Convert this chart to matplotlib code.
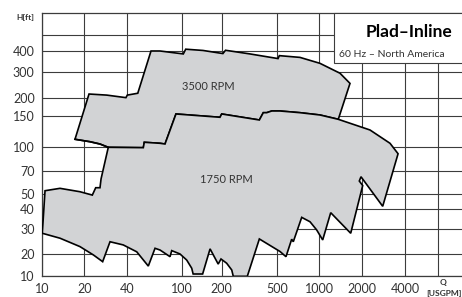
import numpy as np
import matplotlib
matplotlib.use("Agg")
import matplotlib.pyplot as plt
from matplotlib.patches import Rectangle

plt.rcParams['font.family'] = ['Lato', 'DejaVu Sans']

# ---------------- data (Q in US gpm, H in ft) ----------------
# 3500 RPM envelope: left-bottom corner, up, along the top, down the right side
rpm3500_top_q = [17.15, 21.6, 28.85, 39.5, 40.4, 48.0, 59.7, 69.3, 101.8, 106.2, 143.9,
                 204, 213, 319, 506, 517, 727, 1011, 1403, 1652, 1364]
rpm3500_top_h = [110.3, 213.5, 210, 202, 210, 216, 400, 400, 384, 410, 403,
                 386, 404, 384, 360, 375, 366, 337, 293, 251, 143.6]
# 3500 RPM lower-left edge (from left corner to where it meets the 1750 envelope)
rpm3500_low_q = [17.15, 21.95, 25.85, 29.6]
rpm3500_low_h = [110.3, 106.8, 103.6, 99.1]

# 1750 RPM envelope: upper edge left -> right
rpm1750_top_q = [10.0, 10.46, 13.39, 18.63, 22.8, 24.1, 25.85, 26.3, 29.6, 52.6, 53.45,
                 69.3, 75.2, 90.1, 194, 200, 372, 397, 420, 456, 523, 727, 1011,
                 1364, 2284, 3147, 3580]
rpm1750_top_h = [27.9, 52.3, 54.2, 51.5, 49.0, 54.7, 54.7, 62.4, 99.1, 98.6, 106.0,
                 104.6, 103.6, 155.0, 147.5, 155.0, 142.3, 158.3, 158.3, 162.7, 162.7,
                 158.3, 152.5, 143.6, 124.7, 104.6, 90.3]
# 1750 RPM envelope: lower edge right -> left
rpm1750_bot_q = [2799, 1977, 1923, 2032, 1671, 1205, 1057, 958, 858, 748, 651, 634, 577,
                 523, 372, 305, 242, 236, 217, 197.6, 188, 163, 143, 121, 118, 108,
                 96.3, 84.0, 81.7, 69.3, 63.8, 57.1, 47.2, 37.8, 30.45, 27.0, 23.2,
                 18.6, 13.4, 10.0]
rpm1750_bot_h = [41.6, 64.5, 60.5, 56.5, 27.9, 37.9, 25.1, 29.4, 33.2, 35.4, 24.4, 25.4,
                 18.55, 20.9, 25.5, 10.0, 10.0, 12.2, 15.1, 17.25, 14.7, 21.8, 10.75,
                 10.75, 12.9, 16.7, 20.1, 21.2, 18.55, 21.4, 22.0, 13.8, 20.8, 23.2,
                 24.4, 15.85, 19.6, 22.6, 25.8, 27.9]

x_ticks = [10, 20, 40, 100, 200, 500, 1000, 2000, 4000]
x_grid_extra = [7000]
y_ticks = [10, 20, 30, 40, 50, 70, 100, 150, 200, 300, 400]
y_grid_extra = [500]

title_text = "Plad\u2013Inline"
subtitle_text = "60 Hz \u2013 North America"
labels = [("3500 RPM", 158.6, 241), ("1750 RPM", 214.7, 62.1)]

# ---------------- scale calibration (chart's non-uniform log axes) ----------------
W, H = 462, 297
XCAL_V = [10, 20, 40, 100, 200, 500, 1000, 2000, 4000, 7000, 10000]
XCAL_P = [42.3, 84.3, 126.7, 182.3, 221.7, 277.3, 319.3, 361.7, 405.0, 438.3, 462.0]
YCAL_V = [10, 20, 30, 40, 50, 70, 100, 150, 200, 300, 400, 500, 700]
YCAL_P = [276.3, 254.3, 228.7, 209.0, 193.7, 171.3, 146.7, 116.0, 98.3, 71.7, 51.0, 34.7, 13.3]


def make_scale(vals, pix):
    lv = np.log10(np.asarray(vals, float))
    p = np.asarray(pix, float)
    s0 = (p[1] - p[0]) / (lv[1] - lv[0])
    s1 = (p[-1] - p[-2]) / (lv[-1] - lv[-2])

    def fwd(v):
        v = np.asarray(v, float)
        l = np.log10(np.where(v > 0, v, 1e-300))
        out = np.interp(l, lv, p)
        out = np.where(l < lv[0], p[0] + (l - lv[0]) * s0, out)
        out = np.where(l > lv[-1], p[-1] + (l - lv[-1]) * s1, out)
        return out

    def inv(q):
        q = np.asarray(q, float)
        out = np.interp(q, p, lv)
        out = np.where(q < p[0], lv[0] + (q - p[0]) / s0, out)
        out = np.where(q > p[-1], lv[-1] + (q - p[-1]) / s1, out)
        return 10 ** out

    return fwd, inv


xf = make_scale(XCAL_V, XCAL_P)
yf = make_scale(YCAL_V, [H - v for v in YCAL_P])

fig = plt.figure(figsize=(W / 100, H / 100), dpi=100)
ax_left = XCAL_P[0] / W
ax_bottom = (H - YCAL_P[0]) / H
ax_top = (H - YCAL_P[-1]) / H
ax = fig.add_axes([ax_left, ax_bottom, 1.0 - ax_left, ax_top - ax_bottom])
ax.set_xscale('function', functions=xf)
ax.set_yscale('function', functions=yf)
ax.set_xlim(10, 10000)
ax.set_ylim(10, 700)

grid_col = '#3c3c3c'
txt_col = '#333333'
ax.set_xticks(x_ticks + x_grid_extra)
ax.set_xticklabels([str(t) for t in x_ticks] + [''] * len(x_grid_extra))
ax.set_yticks(y_ticks + y_grid_extra)
ax.set_yticklabels([str(t) for t in y_ticks] + [''] * len(y_grid_extra))
ax.minorticks_off()
ax.tick_params(axis='both', length=0, labelsize=9, colors=txt_col)
ax.tick_params(axis='y', pad=5.5)
ax.tick_params(axis='x', pad=4.5)
ax.grid(True, color=grid_col, lw=0.8, zorder=0)
ax.set_axisbelow(True)
for s in ['top', 'left', 'bottom']:
    ax.spines[s].set_color(grid_col)
    ax.spines[s].set_linewidth(0.9)
ax.spines['right'].set_visible(False)

fill_col = '#d2d3d5'
q3500 = rpm3500_top_q + list(reversed(rpm1750_top_q[8:24])) + list(reversed(rpm3500_low_q))
h3500 = rpm3500_top_h + list(reversed(rpm1750_top_h[8:24])) + list(reversed(rpm3500_low_h))
ax.fill(q3500, h3500, facecolor=fill_col, edgecolor='black', lw=1.2, zorder=2,
        joinstyle='miter')
q1750 = rpm1750_top_q + rpm1750_bot_q
h1750 = rpm1750_top_h + rpm1750_bot_h
ax.fill(q1750, h1750, facecolor=fill_col, edgecolor='black', lw=1.2, zorder=3,
        joinstyle='miter')
# redraw shared edge of 3500 envelope so it stays visible
ax.plot(rpm3500_low_q, rpm3500_low_h, color='black', lw=1.2, zorder=4)

for txt, qx, hy in labels:
    ax.text(qx, hy, txt, ha='center', va='center', fontsize=8, color=txt_col, zorder=5)

# title box
fig.patches.append(Rectangle((334.3 / W, (H - 62.7) / H), 0.3, (62.7 - 13.3) / H,
                             transform=fig.transFigure, facecolor='white',
                             edgecolor=grid_col, lw=0.8, zorder=10))
fig.text(452.7 / W, (H - 31.7) / H, title_text, ha='right', va='center',
         fontsize=12.5, fontweight='bold', color='black', zorder=11)
fig.text(339.3 / W, (H - 54.2) / H, subtitle_text, ha='left', va='center',
         fontsize=7.5, color=txt_col, zorder=11)

fig.text(25.3 / W, (H - 17.5) / H, "H[ft]", ha='center', va='center', fontsize=6,
         fontweight='bold', color=txt_col)
fig.text(443.3 / W, (H - 283) / H, "Q", ha='center', va='center', fontsize=6,
         fontweight='bold', color=txt_col)
fig.text(444 / W, (H - 293.7) / H, "[USGPM]", ha='center', va='center', fontsize=6,
         fontweight='bold', color=txt_col)

fig.savefig("out.png", dpi=100)
